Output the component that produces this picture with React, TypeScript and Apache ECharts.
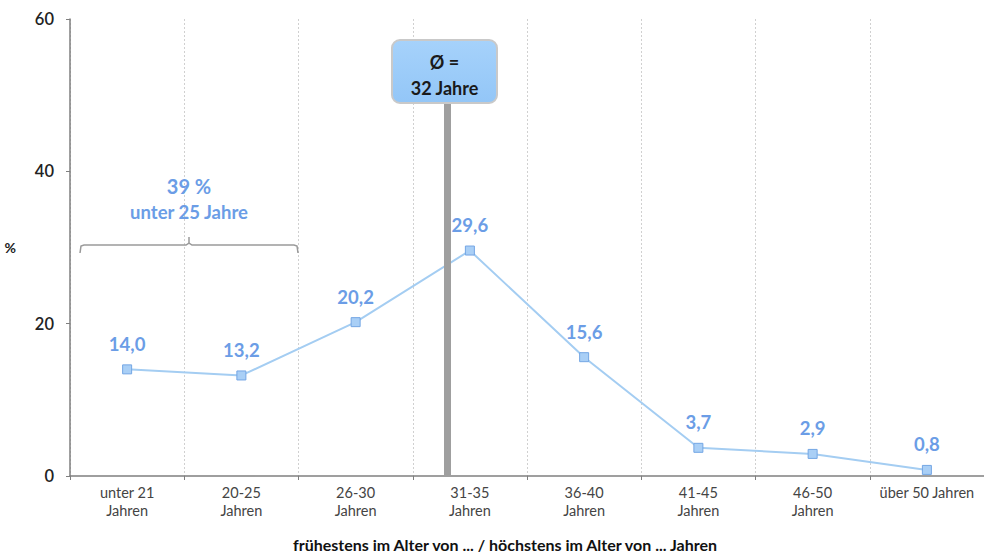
import React, { useEffect, useRef } from "react";
import * as echarts from "echarts";

const categories = ["unter 21\nJahren", "20-25\nJahren", "26-30\nJahren", "31-35\nJahren", "36-40\nJahren", "41-45\nJahren", "46-50\nJahren", "über 50 Jahren"];
const values = [14.0, 13.2, 20.2, 29.6, 15.6, 3.7, 2.9, 0.8];
const yTicks = [0, 20, 40, 60];
const meanAge = 32;
const meanLabel = ["Ø =", "32 Jahre"];
const bracketLabel = ["39 %", "unter 25 Jahre"];
const xTitle = "frühestens im Alter von ... / höchstens im Alter von ... Jahren";

const FONT = "Lato, 'Open Sans', sans-serif";
const BLUE = "#6b9de6";

export default function App() {
  const ref = useRef<HTMLDivElement>(null);
  useEffect(() => {
    document.body.style.margin = "0";
    const chart = echarts.init(ref.current!, undefined, { renderer: "svg" });
    // mean position on the hidden value axis: category 31-35 covers ages 30.5..35.5
    const meanPos = 3 + (meanAge - 30.5) / 5;
    const option: any = {
      animation: false,
      textStyle: { fontFamily: FONT },
      grid: { left: 70, right: 0, top: 19, bottom: 80, containLabel: false, outerBoundsMode: "none" },
      xAxis: [
        {
          type: "category",
          data: categories,
          boundaryGap: true,
          axisLine: { show: true, lineStyle: { color: "#7f7f7f", width: 1.5 } },
          axisTick: { show: true, alignWithLabel: false, length: 4, lineStyle: { color: "#7f7f7f" } },
          axisLabel: { color: "#444", fontSize: 14.5, lineHeight: 18, margin: 7, interval: 0, fontFamily: FONT },
          splitLine: { show: true, lineStyle: { color: "#d0d0d0", type: [2, 2], width: 1 } },
          name: xTitle,
          nameLocation: "middle",
          nameGap: 60,
          nameTextStyle: { color: "#111", fontSize: 16, fontWeight: "bold", fontFamily: FONT, padding: [0, 0, 0, -44] },
        },
        { type: "value", min: 0, max: 8, show: false },
      ],
      yAxis: {
        type: "value",
        min: 0,
        max: 60,
        interval: 20,
        axisLine: { show: true, lineStyle: { color: "#7f7f7f", width: 1.5 } },
        axisTick: { show: true, length: 4, lineStyle: { color: "#7f7f7f" } },
        axisLabel: {
          color: "#222", fontSize: 16.5, fontWeight: 600, margin: 16, fontFamily: FONT,
          formatter: (v: number) => (yTicks.includes(v) ? String(v) : ""),
        },
        splitLine: { show: false },
        name: "%",
        nameLocation: "middle",
        nameRotate: 0,
        nameGap: 54,
        nameTextStyle: { color: "#222", fontSize: 14, fontWeight: "bold", fontFamily: FONT, padding: [16, 0, 0, 0] },
      },
      series: [
        {
          type: "line",
          xAxisIndex: 1,
          data: [],
          silent: true,
          markLine: {
            symbol: "none",
            silent: true,
            label: { show: false },
            lineStyle: { color: "#9f9f9f", width: 7, type: "solid" },
            data: [[{ coord: [meanPos, 0] }, { coord: [meanPos, 49] }]],
          },
          z: 1,
        },
        {
          type: "line",
          data: values,
          symbol: "rect",
          symbolSize: 9,
          lineStyle: { color: "#a4cdf2", width: 2 },
          itemStyle: { color: "#a9cff6", borderColor: "#74a6e4", borderWidth: 1 },
          label: {
            show: true,
            position: "top",
            distance: 11,
            color: BLUE,
            fontSize: 18.5,
            fontWeight: "bold",
            fontFamily: FONT,
            formatter: (p: any) => p.value.toFixed(1).replace(".", ","),
          },
          z: 3,
        },
      ],
      graphic: [
        {
          type: "rect",
          x: 392,
          y: 40,
          shape: { x: 0, y: 0, width: 105, height: 63, r: 8 },
          style: {
            fill: new echarts.graphic.LinearGradient(0, 0, 0, 1, [
              { offset: 0, color: "#a6d2fb" },
              { offset: 1, color: "#93c6f7" },
            ]),
            stroke: "#c9c9c9",
            lineWidth: 2,
          },
          z: 10,
        },
        {
          type: "text",
          x: 444.5, y: 62,
          style: { text: meanLabel[0], fill: "#1a1a1a", font: `bold 18px ${FONT}`, align: "center", verticalAlign: "middle" },
          z: 11,
        },
        {
          type: "text",
          x: 444.5, y: 88,
          style: { text: meanLabel[1], fill: "#1a1a1a", font: `bold 18px ${FONT}`, align: "center", verticalAlign: "middle" },
          z: 11,
        },
        {
          type: "polyline",
          shape: { points: [[80, 253], [81, 246], [84, 245], [186, 245], [189, 243], [189, 237], [189, 243], [192, 245], [294, 245], [297, 246], [298, 253]] },
          style: { stroke: "#9a9a9a", lineWidth: 1.5, fill: null },
          z: 5,
        },
        {
          type: "text",
          x: 189, y: 186,
          style: { text: bracketLabel[0], fill: BLUE, font: `bold 20px ${FONT}`, align: "center", verticalAlign: "middle" },
          z: 5,
        },
        {
          type: "text",
          x: 189, y: 212,
          style: { text: bracketLabel[1], fill: BLUE, font: `bold 18.5px ${FONT}`, align: "center", verticalAlign: "middle" },
          z: 5,
        },
      ],
    };
    chart.setOption(option);
    return () => chart.dispose();
  }, []);
  return <div ref={ref} style={{ position: "fixed", left: 0, top: 0, width: 984, height: 556, background: "#fff" }} />;
}
